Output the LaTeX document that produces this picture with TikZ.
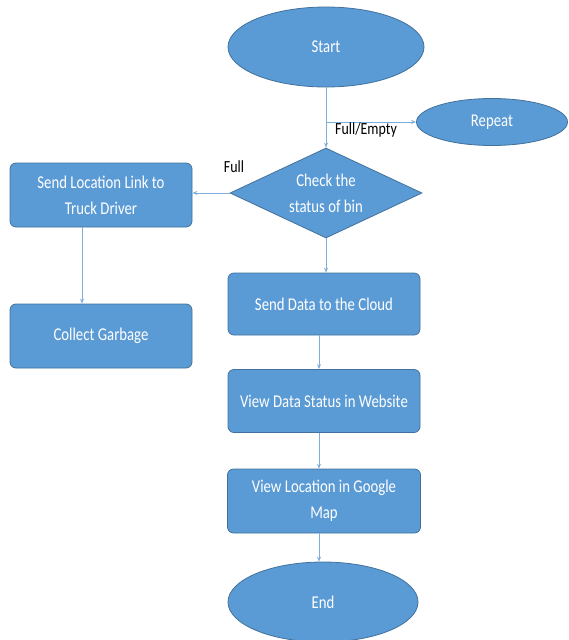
\documentclass[tikz,border=0pt]{standalone}
\usepackage{fontspec}
\setmainfont[FakeStretch=0.82]{Carlito}
\usetikzlibrary{shapes.geometric,arrows.meta}
\definecolor{boxfill}{HTML}{5B9BD5}
\definecolor{boxline}{HTML}{41719C}
\definecolor{conn}{HTML}{7FAEDC}
\tikzset{
  base/.style={fill=boxfill, draw=boxline, line width=0.8pt, text=white, align=center,
    font=\fontsize{18}{26}\selectfont, inner sep=0pt},
  oval/.style={base, ellipse},
  procbox/.style={base, rectangle, rounded corners=6pt},
  decision/.style={base, diamond, aspect=2.1},
  conn/.style={draw=conn, line width=0.8pt, -{Stealth[length=5pt,width=4pt]}},
  lbl/.style={font=\fontsize{17}{20}\selectfont, text=black, inner sep=0pt}
}
\begin{document}
\begin{tikzpicture}[x=1pt,y=-1pt]
\useasboundingbox (0,0) rectangle (569,640);
\node[oval, minimum width=196pt, minimum height=80pt] (start) at (326,47) {Start};
\node[oval, minimum width=151pt, minimum height=47pt] (repeat) at (492,122) {Repeat};
\node[decision, minimum width=192pt, minimum height=90pt] (check) at (326,193) {Check the\\status of bin};
\node[procbox, minimum width=182pt, minimum height=64pt] (sendloc) at (101,195) {Send Location Link to\\Truck Driver};
\node[procbox, minimum width=182pt, minimum height=64pt] (collect) at (101,336) {Collect Garbage};
\node[procbox, minimum width=192pt, minimum height=62pt] (cloud) at (324,304) {Send Data to the Cloud};
\node[procbox, minimum width=192pt, minimum height=63pt] (web) at (324,401) {View Data Status in Website};
\node[procbox, minimum width=193pt, minimum height=64pt] (map) at (324,501) {View Location in Google\\Map};
\node[oval, minimum width=190pt, minimum height=80pt] (end) at (323,602) {End};

\coordinate (br) at (326,122);
\draw[conn] (start.south) -- (check.north);
\draw[conn] (br) -- (repeat.west);
\draw[conn] (check.west) -- (check.west -| sendloc.east);
\draw[conn] ([xshift=-19pt]sendloc.south) -- ([xshift=-19pt]collect.north);
\draw[conn] (check.south) -- (check.south |- cloud.north);
\draw[conn] ([xshift=-5pt]cloud.south) -- ([xshift=-5pt]web.north);
\draw[conn] ([xshift=-5pt]web.south) -- ([xshift=-5pt]map.north);
\draw[conn] ([xshift=-5pt]map.south) -- ([xshift=-4pt]end.north);

\node[lbl] (fe) at (366,130) {Full/Empty};
\node[lbl] (full) at (234,167) {Full};
\end{tikzpicture}
\end{document}
